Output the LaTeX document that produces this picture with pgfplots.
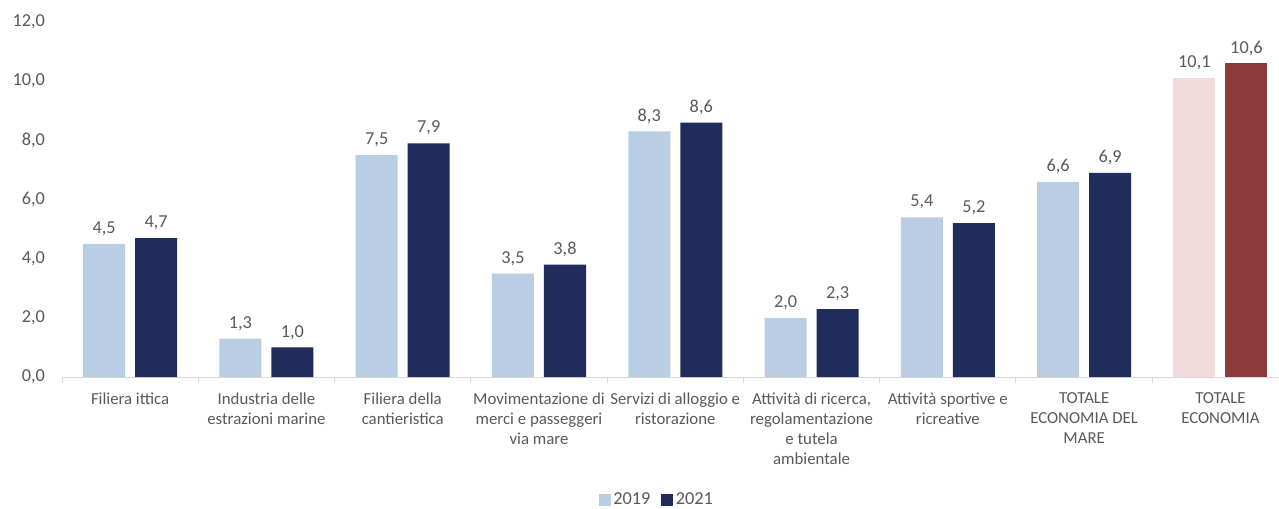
\documentclass[border=0pt]{standalone}
\usepackage{fontspec}
\setmainfont{Carlito}
\usepackage{pgfplots}
\pgfplotsset{compat=1.18}
\definecolor{c19}{HTML}{B9CDE5}
\definecolor{c21}{HTML}{1F2C5C}
\definecolor{cp}{HTML}{F2DCDB}
\definecolor{cr}{HTML}{8E3B3E}
\definecolor{txt}{HTML}{595959}
\definecolor{axl}{HTML}{D9D9D9}
\begin{document}
\begin{tikzpicture}[font=\fontsize{12.6}{15}\selectfont]
\begin{axis}[
  x=102.2pt, y=22.19pt,
  xmin=-0.5, xmax=8.43, ymin=0, ymax=12,
  clip=false,
  axis x line*=bottom, axis y line*=left,
  y axis line style={draw=none},
  x axis line style={axl, line width=0.75pt, -},
  /pgf/number format/use comma,
  /pgf/number format/fixed,
  /pgf/number format/fixed zerofill,
  /pgf/number format/precision=1,
  /pgf/number format/assume math mode=true,
  ytick={0,2,4,6,8,10,12},
  ytick style={draw=none},
  yticklabel style={text=txt, anchor=east, xshift=-5pt, font=\fontsize{13.7}{16}\selectfont},
  xtick={0,1,2,3,4,5,6,7,8},
  xticklabels={
    Filiera ittica,
    {Industria delle\\estrazioni marine},
    {Filiera della\\cantieristica},
    {Movimentazione di\\merci e passeggeri\\via mare},
    {Servizi di alloggio e\\ristorazione},
    {Attività di ricerca,\\regolamentazione\\e tutela\\ambientale},
    {Attività sportive e\\ricreative},
    {TOTALE\\ECONOMIA DEL\\MARE},
    {TOTALE\\ECONOMIA}},
  xticklabel style={align=center, text=txt, anchor=north, yshift=-4pt},
  major x tick style={draw=none},
  minor xtick={-0.5,0.5,1.5,2.5,3.5,4.5,5.5,6.5,7.5},
  minor x tick style={axl, line width=0.75pt},
  minor tick length=4.5pt,
  tick align=outside,
  ybar, bar width=31.5pt,
  nodes near coords,
  every node near coord/.append style={text=txt, yshift=2.5pt, font=\fontsize{13.7}{16}\selectfont},
  legend style={at={(0.489,-0.346)}, anchor=center, draw=none, legend columns=2,
    text=txt, font=\fontsize{13.7}{16}\selectfont,
    /tikz/every even column/.append style={column sep=6pt}},
  legend image code/.code={\fill[#1] (0pt,-4.5pt) rectangle (9pt,4.5pt);},
]
\addplot[fill=c19, draw=none, bar shift=-19.5pt] coordinates {(0,4.5) (1,1.3) (2,7.5) (3,3.5) (4,8.3) (5,2.0) (6,5.4) (7,6.6)};
\addplot[fill=c21, draw=none, bar shift=19.5pt] coordinates {(0,4.7) (1,1.0) (2,7.9) (3,3.8) (4,8.6) (5,2.3) (6,5.2) (7,6.9)};
\addplot[fill=cp, draw=none, bar shift=-19.5pt, forget plot] coordinates {(8,10.1)};
\addplot[fill=cr, draw=none, bar shift=19.5pt, forget plot] coordinates {(8,10.6)};
\legend{2019,2021}
\coordinate (bl) at (axis cs:-0.955,-4.429);
\coordinate (tr) at (axis cs:8.43,12.744);
\end{axis}
\pgfresetboundingbox
\path[use as bounding box] (bl) rectangle (tr);
\end{tikzpicture}
\end{document}
